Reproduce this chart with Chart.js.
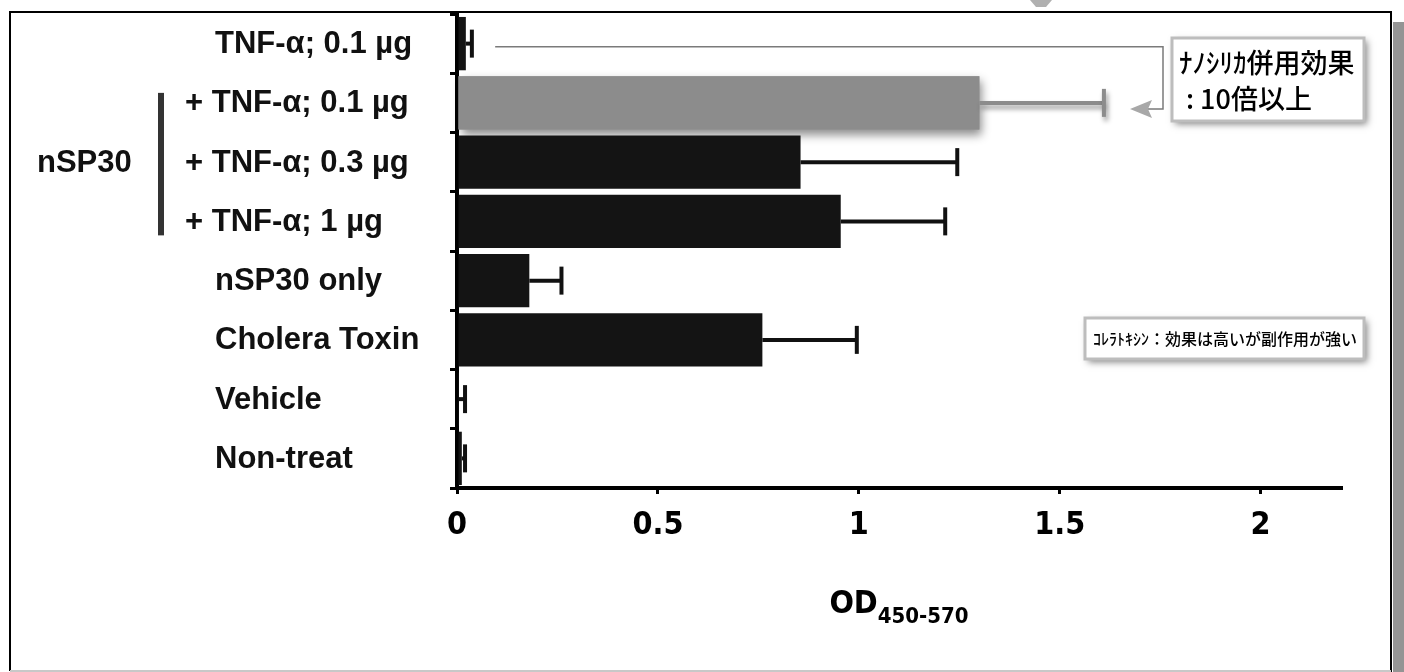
<!DOCTYPE html>
<html>
<head>
<meta charset="utf-8">
<script src="https://cdn.jsdelivr.net/npm/chart.js@4.4.1/dist/chart.umd.min.js"></script>
<style>
  html, body { margin: 0; padding: 0; background: #fff; }
  #wrap { width: 1404px; height: 672px; position: relative; }
</style>
</head>
<body>
<div id="wrap"><canvas id="chart"></canvas></div>
<script>
"use strict";

// data
const categories = ['TNF-α; 0.1 µg', '+ TNF-α; 0.1 µg', '+ TNF-α; 0.3 µg', '+ TNF-α; 1 µg',
                    'nSP30 only', 'Cholera Toxin', 'Vehicle', 'Non-treat'];
const odMeans  = [0.022, 1.30, 0.855, 0.955, 0.18, 0.76, 0.005, 0.012];
const odErrors = [0.015, 0.31, 0.39, 0.26, 0.08, 0.235, 0.015, 0.008];
const barColors = ['#141414', '#8c8c8c', '#141414', '#141414', '#141414', '#141414', '#141414', '#141414'];
const xTicks = [0, 0.5, 1, 1.5, 2];
const groupLabel = 'nSP30';
const axisTitle = ['OD', '450-570'];
const noteTop = ['ﾅﾉｼﾘｶ併用効果', ': 10倍以上'];
const noteMid = 'ｺﾚﾗﾄｷｼﾝ：効果は高いが副作用が強い';

const LABEL_FONT = "bold 31px 'Liberation Sans', Arial, sans-serif";
const NARROW = "'Liberation Sans Narrow', 'DejaVu Sans Condensed', 'Liberation Sans', sans-serif";
const JP_FONT = "'Noto Sans CJK JP', sans-serif";

// page frame, drawn first
const framePlugin = {
    id: 'frame',
    beforeDraw(chart) {
        const ctx = chart.ctx;
        ctx.save();
        ctx.fillStyle = '#fff';
        ctx.fillRect(0, 0, chart.width, chart.height);
        // grey strip on the right
        ctx.fillStyle = '#949494';
        ctx.fillRect(1393, 22, 11, 650);
        // small grey shape cut by the top edge
        ctx.fillStyle = '#b0b0b0';
        ctx.beginPath();
        ctx.moveTo(1030, 0); ctx.lineTo(1052, 0); ctx.lineTo(1046, 7); ctx.lineTo(1036, 7);
        ctx.closePath();
        ctx.fill();
        // frame
        ctx.strokeStyle = '#000';
        ctx.lineWidth = 2;
        ctx.beginPath();
        ctx.moveTo(10, 671); ctx.lineTo(10, 12); ctx.lineTo(1391, 12); ctx.lineTo(1391, 672);
        ctx.stroke();
        ctx.strokeStyle = '#c8c8c8';
        ctx.beginPath();
        ctx.moveTo(10, 671); ctx.lineTo(1391, 671);
        ctx.stroke();
        ctx.restore();
    }
};

// soft shadow under the grey bar
const shadowPlugin = {
    id: 'barShadow',
    beforeDatasetsDraw(chart) {
        const ctx = chart.ctx;
        const el = chart.getDatasetMeta(0).data[1];
        if (!el) return;
        const p = el.getProps(['x', 'y', 'base', 'height'], true);
        ctx.save();
        ctx.shadowColor = 'rgba(0,0,0,0.45)';
        ctx.shadowBlur = 9;
        ctx.shadowOffsetX = 3;
        ctx.shadowOffsetY = 5;
        ctx.fillStyle = '#9a9a9a';
        ctx.fillRect(p.base, p.y - p.height / 2, p.x - p.base, p.height);
        ctx.restore();
    }
};

// error bars, right side only
const errorPlugin = {
    id: 'errorBars',
    afterDatasetsDraw(chart) {
        const ctx = chart.ctx;
        const xs = chart.scales.x;
        chart.getDatasetMeta(0).data.forEach((el, i) => {
            const p = el.getProps(['x', 'y'], true);
            const xe = xs.getPixelForValue(odMeans[i] + odErrors[i]);
            const grey = i === 1;
            ctx.save();
            if (grey) {
                ctx.shadowColor = 'rgba(0,0,0,0.4)';
                ctx.shadowBlur = 5;
                ctx.shadowOffsetX = 2;
                ctx.shadowOffsetY = 4;
            }
            ctx.strokeStyle = grey ? '#8c8c8c' : '#111';
            ctx.lineWidth = 4;
            ctx.beginPath();
            ctx.moveTo(p.x, p.y);
            ctx.lineTo(xe, p.y);
            ctx.stroke();
            ctx.beginPath();
            ctx.moveTo(xe, p.y - 14);
            ctx.lineTo(xe, p.y + 14);
            ctx.stroke();
            ctx.restore();
        });
    }
};

function noteBox(ctx, x, y, w, h) {
    ctx.save();
    ctx.shadowColor = 'rgba(0,0,0,0.5)';
    ctx.shadowBlur = 7;
    ctx.shadowOffsetX = 3;
    ctx.shadowOffsetY = 3;
    ctx.fillStyle = '#fff';
    ctx.fillRect(x, y, w, h);
    ctx.restore();
    ctx.save();
    ctx.strokeStyle = '#bdbdbd';
    ctx.lineWidth = 3;
    ctx.strokeRect(x, y, w, h);
    ctx.restore();
}

// category labels, group bracket, axis title and the two notes
const textPlugin = {
    id: 'texts',
    afterDraw(chart) {
        const ctx = chart.ctx;
        const ys = chart.scales.y;
        const xs = chart.scales.x;
        ctx.save();
        ctx.fillStyle = '#111';
        ctx.font = LABEL_FONT;
        ctx.textBaseline = 'middle';
        ctx.textAlign = 'left';
        categories.forEach((c, i) => {
            const y = ys.getPixelForValue(i);
            ctx.fillText(c, c.startsWith('+') ? 185 : 215, y + 1);
        });

        // nSP30 group
        ctx.fillText(groupLabel, 37, ys.getPixelForValue(2) + 1);
        ctx.fillStyle = '#333';
        const bTop = ys.getPixelForValue(1) - 10;
        const bBot = ys.getPixelForValue(3) + 14;
        ctx.fillRect(158, bTop, 6, bBot - bTop);

        // x axis title with subscript
        ctx.fillStyle = '#000';
        ctx.textBaseline = 'alphabetic';
        ctx.font = 'bold 32px ' + NARROW;
        const w1 = ctx.measureText(axisTitle[0]).width;
        ctx.font = 'bold 22px ' + NARROW;
        const w2 = ctx.measureText(axisTitle[1]).width;
        const cx = (xs.left + xs.right) / 2;
        const x0 = cx - (w1 + w2) / 2;
        ctx.font = 'bold 32px ' + NARROW;
        ctx.fillText(axisTitle[0], x0, 613);
        ctx.font = 'bold 22px ' + NARROW;
        ctx.fillText(axisTitle[1], x0 + w1, 623);

        // connector line from the first row to the note
        const yRow = ys.getPixelForValue(0) + 3;
        const yArrow = ys.getPixelForValue(1) + 6;
        ctx.strokeStyle = '#7a7a7a';
        ctx.lineWidth = 1.5;
        ctx.beginPath();
        ctx.moveTo(xs.getPixelForValue(0.095), yRow);
        ctx.lineTo(1163, yRow);
        ctx.lineTo(1163, yArrow);
        ctx.lineTo(1148, yArrow);
        ctx.stroke();
        ctx.fillStyle = '#a8a8a8';
        ctx.beginPath();
        ctx.moveTo(1130, yArrow);
        ctx.lineTo(1152, yArrow - 9);
        ctx.lineTo(1148, yArrow);
        ctx.lineTo(1152, yArrow + 9);
        ctx.closePath();
        ctx.fill();

        // notes
        noteBox(ctx, 1172, 38, 192, 83);
        noteBox(ctx, 1085, 318, 279, 41);
        ctx.fillStyle = '#000';
        ctx.font = '500 27px ' + JP_FONT;
        ctx.textBaseline = 'middle';
        ctx.fillText(noteTop[0], 1179, 63);
        ctx.fillText(noteTop[1], 1186, 99);
        ctx.font = '500 16px ' + JP_FONT;
        ctx.fillText(noteMid, 1093, 339);
        ctx.restore();
    }
};

const ctx = document.getElementById('chart').getContext('2d');
new Chart(ctx, {
    type: 'bar',
    data: {
        labels: categories,
        datasets: [{
            data: odMeans,
            backgroundColor: barColors,
            borderWidth: 0,
            barPercentage: 0.9,
            categoryPercentage: 1.0
        }]
    },
    options: {
        indexAxis: 'y',
        responsive: true,
        maintainAspectRatio: false,
        animation: false,
        events: [],
        layout: { padding: { left: 0, right: 63, top: 14, bottom: 0 } },
        plugins: {
            legend: { display: false },
            tooltip: { enabled: false }
        },
        scales: {
            x: {
                type: 'linear',
                min: 0,
                max: 2.2,
                afterBuildTicks: s => { s.ticks = xTicks.map(v => ({ value: v })); },
                afterFit: s => { s.height = 184; },
                border: { display: true, color: '#000', width: 4 },
                grid: { drawOnChartArea: false, drawTicks: true, tickLength: 6, color: '#000', lineWidth: 3 },
                ticks: {
                    color: '#000',
                    padding: 12,
                    maxRotation: 0,
                    callback: v => String(v),
                    font: { family: NARROW, size: 32, weight: 'bold' }
                }
            },
            y: {
                type: 'category',
                afterFit: s => { s.width = 457; },
                border: { display: true, color: '#000', width: 4 },
                grid: { drawOnChartArea: false, drawTicks: true, tickLength: 7, color: '#000', lineWidth: 3, offset: true },
                ticks: { display: false }
            }
        }
    },
    plugins: [framePlugin, shadowPlugin, errorPlugin, textPlugin]
});
</script>
</body>
</html>
